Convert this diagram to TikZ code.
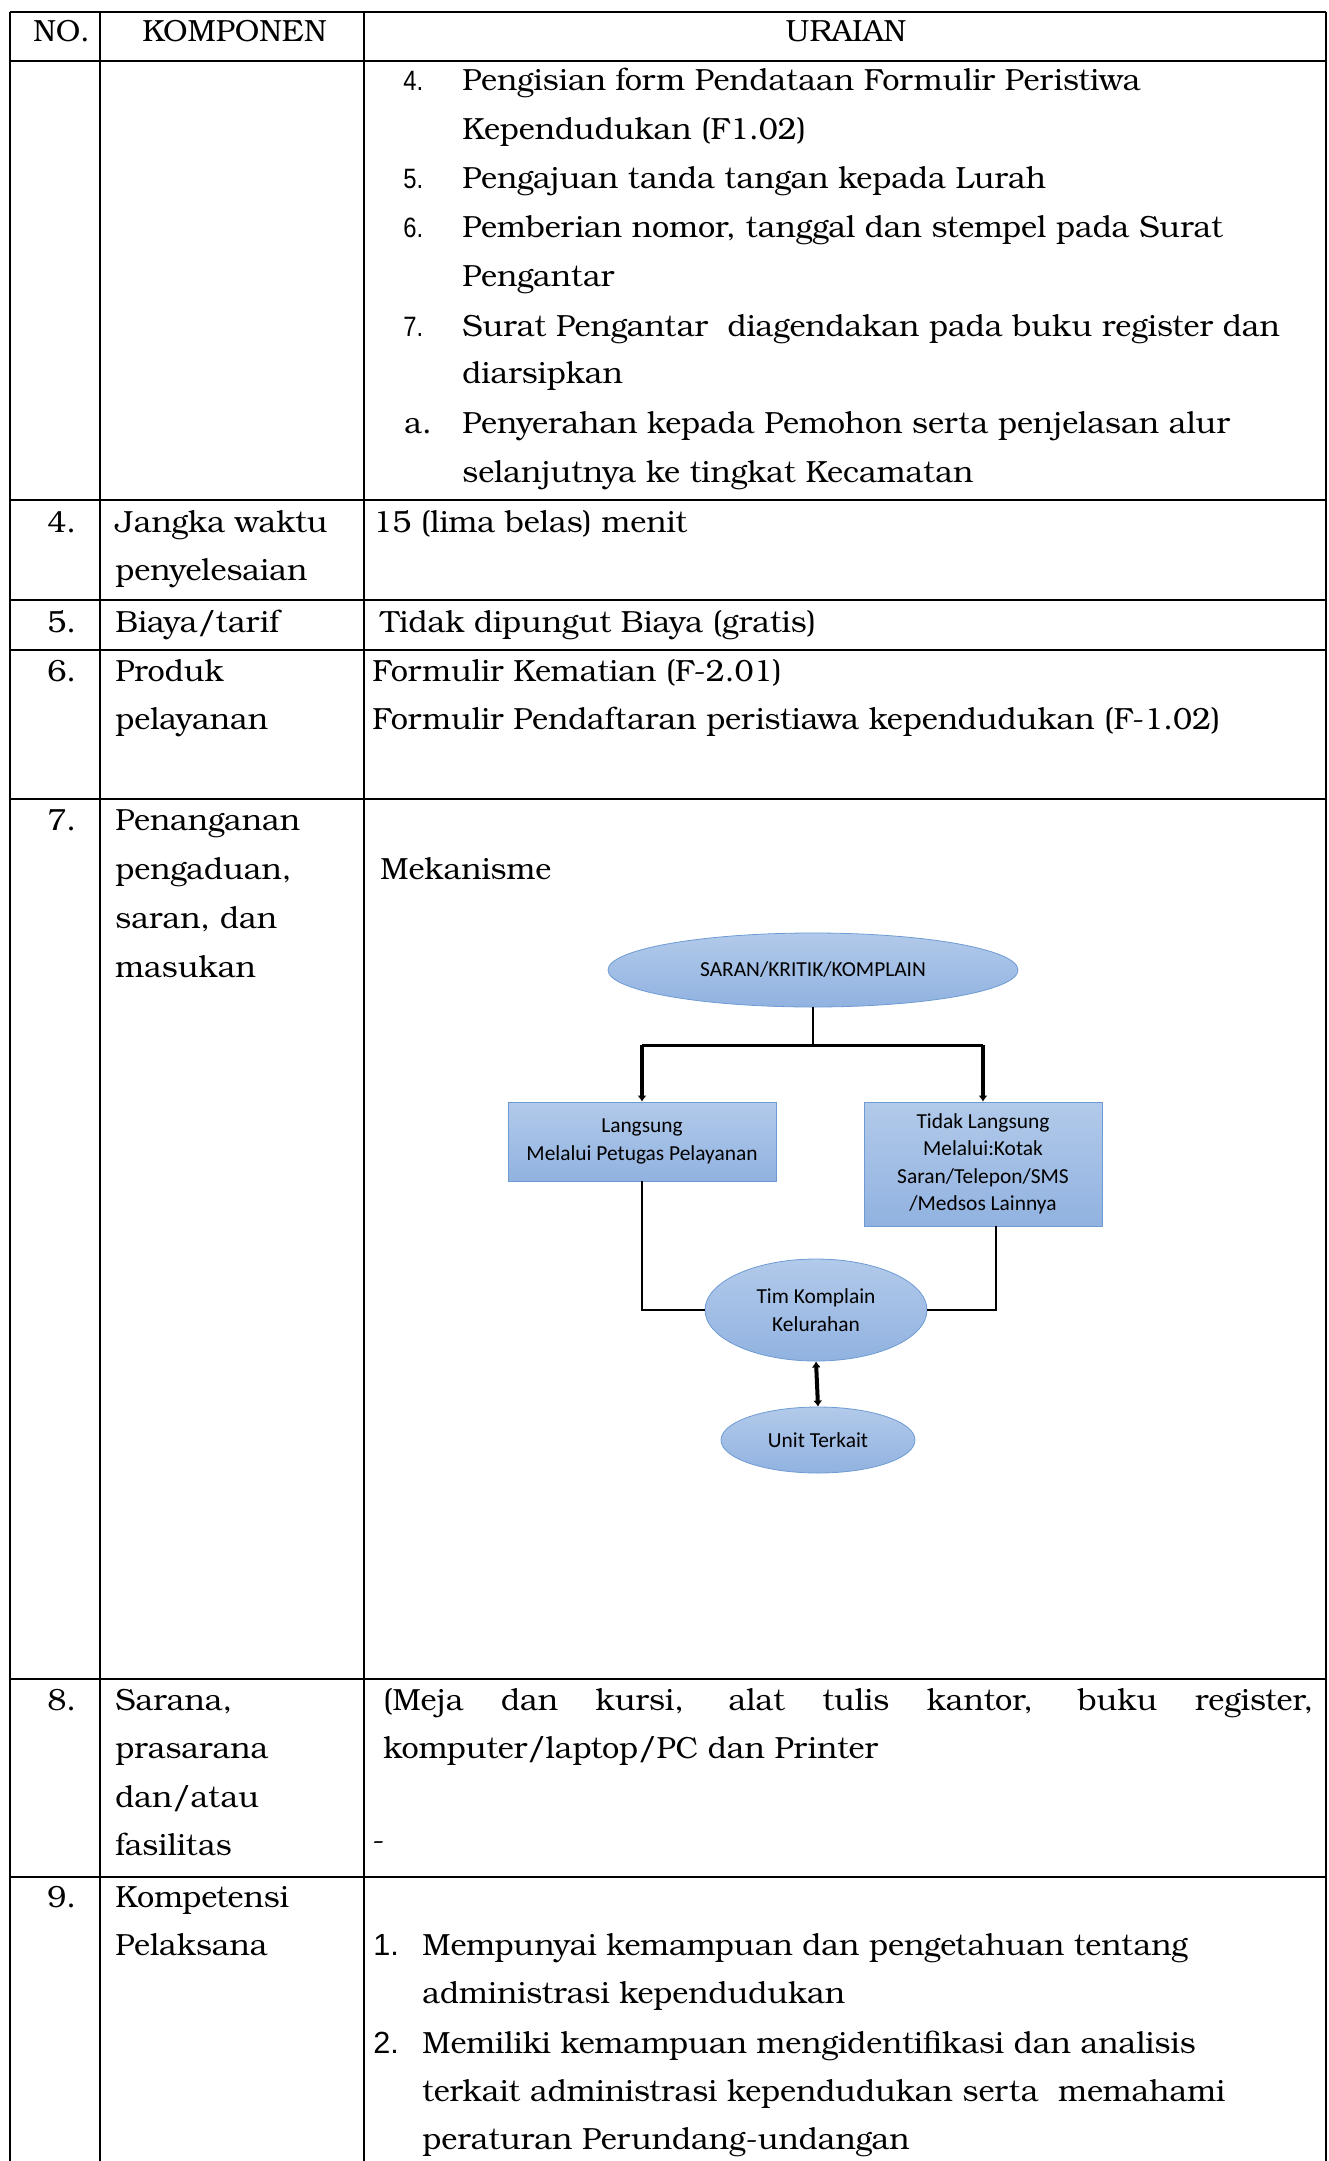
\documentclass[tikz,border=0pt]{standalone}
\usepackage{fontspec}
\setmainfont{TeX Gyre Bonum}
\newfontfamily\calfont{Carlito}
\newfontfamily\arialfont{Liberation Sans}
\usetikzlibrary{arrows.meta,shapes,calc}
\definecolor{ovaltop}{RGB}{178,202,234}
\definecolor{ovalbot}{RGB}{145,178,224}
\definecolor{ovaledge}{RGB}{110,155,212}
\newcommand{\bodysize}{\fontsize{15.3pt}{24.5pt}\selectfont}
\newcommand{\flowsize}{\calfont\fontsize{10.7pt}{13.75pt}\selectfont}
\newcommand{\itemsize}{\arialfont\fontsize{14pt}{24.5pt}\selectfont}
\tikzstyle{tabline}=[draw,line width=1.3pt]
\tikzstyle{cell}=[anchor=base west,inner sep=0pt,font=\bodysize]
\tikzstyle{numcell}=[anchor=base west,inner sep=0pt,font=\itemsize]
\tikzstyle{flowbox}=[rectangle,draw=ovaledge,top color=ovaltop,bottom color=ovalbot,align=center,inner sep=0pt,font=\flowsize]
\tikzstyle{flowoval}=[ellipse,draw=ovaledge,top color=ovaltop,bottom color=ovalbot,align=center,inner sep=0pt,font=\flowsize]
\tikzstyle{link}=[draw,line width=1.35pt]
\tikzstyle{flowarrow}=[draw,line width=2pt,-{Latex[length=3pt,width=4.5pt]}]

\begin{document}
\begin{tikzpicture}[x=0.5pt,y=-0.5pt]
      \useasboundingbox (0,0) rectangle (1328,2161);
      \foreach \xx in {10,100,364,1326}{
        \path[tabline] (\xx,12) -- (\xx,2161);
      }
      \foreach \yy in {12,61,500,600,650,799,1679,1877}{
        \path[tabline] (10,\yy) -- (1326,\yy);
      }

      \node[cell] (no) at (33,42) {NO.};
      \node[cell] (komponen) at (142,42) {KOMPONEN};
      \node[cell,anchor=base] (uraian) at (846,42) {URAIAN};

      \foreach \yy/\nn [count=\i] in {91/4.,189/5.,238/6.,336/7.}{
        \node[numcell,xscale=0.85] (langkah\i) at (403,\yy) {\nn};
      }
      \node[cell] (langkaha) at (404,433) {a.};
      \foreach \yy/\txt [count=\i] in {91/{Pengisian form Pendataan Formulir Peristiwa},
          140/{Kependudukan (F1.02)},189/{Pengajuan tanda tangan kepada Lurah},
          238/{Pemberian nomor, tanggal dan stempel pada Surat},287/{Pengantar},
          336/{Surat Pengantar\ \ diagendakan pada buku register dan},384/{diarsipkan},
          433/{Penyerahan kepada Pemohon serta penjelasan alur},
          482/{selanjutnya ke tingkat Kecamatan}}{
        \node[cell] (uraian\i) at (462,\yy) {\txt};
      }

      \foreach \yy/\nn [count=\i] in {532/4.,632/5.,681/6.,830/7.,1710/8.,1907/9.}{
        \node[cell] (nomor\i) at (47,\yy) {\nn};
      }
      \foreach \yy/\txt [count=\i] in {532/{Jangka waktu},580/{penyelesaian},
          632/{Biaya/tarif},681/{Produk},729/{pelayanan},830/{Penanganan},
          879/{pengaduan,},928/{saran, dan},977/{masukan},1710/{Sarana,},
          1758/{prasarana},1807/{dan/atau},1855/{fasilitas},1907/{Kompetensi},
          1955/{Pelaksana}}{
        \node[cell] (komponen\i) at (115,\yy) {\txt};
      }

      \node[cell] (waktu) at (373,532) {15 (lima belas) menit};
      \node[cell] (biaya) at (380,632) {Tidak dipungut Biaya (gratis)};
      \node[cell] (produk1) at (372,681) {Formulir Kematian (F-2.01)};
      \node[cell] (produk2) at (372,729) {Formulir Pendaftaran peristiawa kependudukan (F-1.02)};
      \node[cell] (mekanisme) at (380,879) {Mekanisme};
      \node[cell] (sarana1) at (383,1710) {\makebox[465pt][s]{(Meja dan kursi, alat tulis kantor, buku register,}};
      \node[cell] (sarana2) at (383,1758) {komputer/laptop/PC dan Printer};
      \node[cell] (sarana3) at (372,1850) {-};

      \node[numcell,font=\arialfont\fontsize{15.3pt}{24.5pt}\selectfont] (kompetensi1) at (373,1955) {1.};
      \node[numcell,font=\arialfont\fontsize{15.3pt}{24.5pt}\selectfont] (kompetensi2) at (373,2053) {2.};
      \foreach \yy/\txt [count=\i] in {1955/{Mempunyai kemampuan dan pengetahuan tentang},
          2003/{administrasi kependudukan},2053/{Memiliki kemampuan mengidentifikasi dan analisis},
          2101/{terkait administrasi kependudukan serta\ \ memahami},
          2149/{peraturan Perundang-undangan}}{
        \node[cell] (syarat\i) at (422,\yy) {\txt};
      }

      \node[flowoval,minimum width=205pt,minimum height=37pt] (saran) at (813,970) {SARAN/KRITIK/KOMPLAIN};
      \node[flowbox,minimum width=134pt,minimum height=39.5pt] (langsung) at (642,1141.5) {Langsung\\Melalui Petugas Pelayanan};
      \node[flowbox,minimum width=119pt,minimum height=62pt] (tidak) at (983,1164) {Tidak Langsung\\Melalui:Kotak\\Saran/Telepon/SMS\\/Medsos Lainnya};
      \node[flowoval,minimum width=111pt,minimum height=51pt] (tim) at (816,1310) {Tim Komplain\\Kelurahan};
      \node[flowoval,minimum width=97pt,minimum height=33pt] (unit) at (818,1440) {Unit Terkait};

      \coordinate (cabang) at ($(saran.south)+(0,38)$);
      \path[link] (saran.south) -- (cabang);
      \path[link] (cabang -| langsung.north) -- (cabang -| tidak.north);
      \path[flowarrow] (cabang -| langsung.north) -- (langsung.north);
      \path[flowarrow] (cabang -| tidak.north) -- (tidak.north);
      \path[link] (langsung.south) |- (tim.west);
      \path[link] ([xshift=6.5pt]tidak.south) |- (tim.east);
      \path[flowarrow,{Latex[length=3pt,width=4.5pt]}-{Latex[length=3pt,width=4.5pt]}] (tim.south) -- (unit.north);

    \end{tikzpicture}
\end{document}
